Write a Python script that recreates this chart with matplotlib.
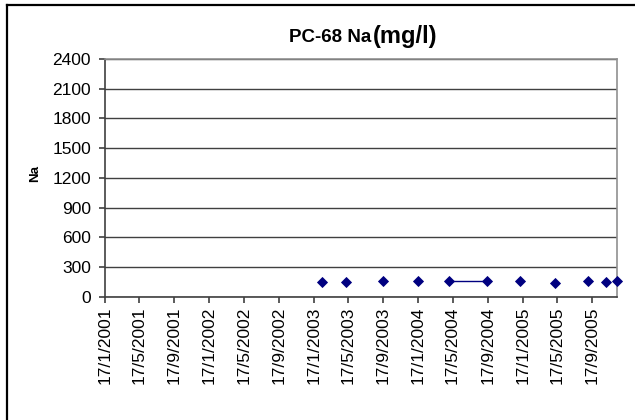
import numpy as np
import matplotlib
matplotlib.use("Agg")
import matplotlib.pyplot as plt
from matplotlib.lines import Line2D
from datetime import datetime

plt.rcParams['font.family'] = ['Liberation Sans', 'DejaVu Sans']

# Sampling dates (blank entries = no measurement, which breaks the line)
dates = [
    "2003-02-16", "2003-03-20", "2003-05-11", "2003-07-15", "2003-09-18",
    "2003-11-20", "2004-01-16", "2004-03-15", "2004-05-06", "2004-09-15",
    "2004-11-10", "2005-01-07", "2005-03-10", "2005-05-11", "2005-07-10",
    "2005-09-03", "2005-10-05", "2005-11-05", "2005-11-25", "2005-12-13",
]
na = [
    145, np.nan, 145, np.nan, 162,
    np.nan, 162, np.nan, 162, 162,
    np.nan, 162, np.nan, 135, np.nan,
    162, np.nan, 145, np.nan, 162,
]
y_ticks = [0, 300, 600, 900, 1200, 1500, 1800, 2100, 2400]
x_start = "2001-01-17"
x_tick_labels = [f"17/{m}/{y}" for y in range(2001, 2006) for m in (1, 5, 9)]

x = [datetime.strptime(d, "%Y-%m-%d") for d in dates]
x_ticks = [datetime.strptime(lbl, "%d/%m/%Y") for lbl in x_tick_labels]

fig = plt.figure(figsize=(6.35, 4.2), dpi=100)
ax = fig.add_axes([105 / 635, 1 - 296.7 / 420, (617 - 105) / 635, (296.7 - 59) / 420])

ax.plot(x, na, color="#000080", lw=1.0, marker="D", ms=4.6,
        mfc="#000080", mec="#000080", mew=0.6, clip_on=False, zorder=3)

ax.set_ylim(0, 2400)
ax.set_yticks(y_ticks)
ax.set_yticklabels([str(v) for v in y_ticks], fontsize=12.5)
ax.set_xlim(datetime.strptime(x_start, "%Y-%m-%d"), x[-1])
ax.set_xticks(x_ticks)
ax.set_xticklabels(x_tick_labels, rotation=90, fontsize=12.5)

ax.grid(axis="y", color="#404040", lw=1.0)
ax.set_axisbelow(True)
for side in ("top", "right"):
    ax.spines[side].set_color("#909090")
    ax.spines[side].set_linewidth(1.2)
for side in ("left", "bottom"):
    ax.spines[side].set_color("#404040")
    ax.spines[side].set_linewidth(1.2)
ax.tick_params(axis="both", direction="out", length=4, width=1.2, color="#404040")
ax.tick_params(axis="x", pad=3)
ax.tick_params(axis="y", pad=6)

ax.set_ylabel("Na", fontsize=9.5, fontweight="bold", labelpad=8)
ax.yaxis.label.set_position((0, 0.52))

# Title with the unit in larger type
fig.text(371.5 / 635, 1 - 42.5 / 420, "PC-68 Na", fontsize=13.5, fontweight="bold",
         ha="right", va="baseline")
fig.text(372.5 / 635, 1 - 42.5 / 420, "(mg/l)", fontsize=17, fontweight="bold",
         ha="left", va="baseline")

# Chart frame
fig.add_artist(Line2D([6.5 / 635, 6.5 / 635], [0, 1 - 5 / 420],
                      transform=fig.transFigure, color="black", lw=1.6))
fig.add_artist(Line2D([6.5 / 635, 1], [1 - 5 / 420, 1 - 5 / 420],
                      transform=fig.transFigure, color="black", lw=1.6))

fig.savefig("out.png", dpi=100)
